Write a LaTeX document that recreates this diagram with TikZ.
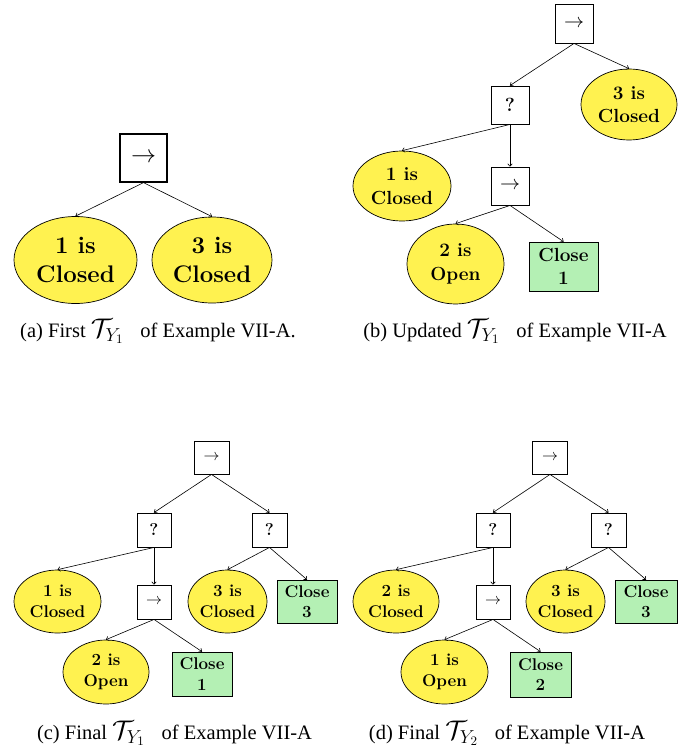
\documentclass[tikz,border=0pt]{standalone}
\usepackage{fontspec}
\newfontfamily\capfont{Liberation Serif}
\usetikzlibrary{shapes.geometric,arrows.meta}
\definecolor{condyellow}{RGB}{255,242,80}
\definecolor{actgreen}{RGB}{180,240,180}
\newcommand\fsa{\fontsize{24}{29}\selectfont\bfseries}
\newcommand\fsb{\fontsize{19}{23.5}\selectfont\bfseries}
\newcommand\fsc{\fontsize{17}{20.5}\selectfont\bfseries}
\newcommand\arr[1]{\scalebox{#1}{$\rightarrow$}}
\newcommand\tsym[1]{\scalebox{1.3}{$\mathcal{T}_{Y_{#1}}$}\hspace{0.55em}}
\begin{document}
\begin{tikzpicture}[x=1pt,y=-1pt,
 ctl/.style={draw,line width=0.9pt,fill=white,inner sep=0pt},
 cond/.style={ellipse,draw,line width=0.7pt,fill=condyellow,inner sep=0pt,align=center},
 act/.style={rectangle,draw,line width=0.7pt,fill=actgreen,inner sep=0pt,align=center},
 edge/.style={-{To[length=3pt,width=5pt]},line width=0.6pt},
 captext/.style={inner sep=0pt,anchor=base,font=\capfont\fontsize{20.5}{23}\selectfont}
]
\useasboundingbox (0,0) rectangle (694,749);

% ---------- (a)
\node[ctl,line width=1.3pt,minimum width=47pt,minimum height=48pt] (a0) at (143.5,158) {\arr{2.5}};
\node[cond,minimum width=123pt,minimum height=87pt,font=\fsa] (a1) at (75.5,260) {1 is\\Closed};
\node[cond,minimum width=120pt,minimum height=86pt,font=\fsa] (a2) at (212,260) {3 is\\Closed};
\draw[edge] (a0.south) -- (a1.north);
\draw[edge] (a0.south) -- (a2.north);
\node[captext] (capa) at (158,337) {(a) First \tsym{1} of Example VII-A.};

% ---------- (b)
\node[ctl,minimum width=38pt,minimum height=39pt] (b0) at (574,23.5) {\arr{2.0}};
\node[ctl,minimum width=38pt,minimum height=38pt,font=\fsb] (bq) at (510,105) {?};
\node[cond,minimum width=96pt,minimum height=71pt,font=\fsb] (b3) at (629,104.5) {3 is\\Closed};
\node[cond,minimum width=98pt,minimum height=70pt,font=\fsb] (b1) at (402,186) {1 is\\Closed};
\node[ctl,minimum width=38pt,minimum height=38pt] (bs) at (510,186) {\arr{2.0}};
\node[cond,minimum width=97pt,minimum height=80pt,font=\fsb] (b2) at (455.5,264) {2 is\\Open};
\node[act,minimum width=69pt,minimum height=49pt,font=\fsb] (bc) at (563.5,266.5) {Close\\1};
\draw[edge] (b0.south) -- (bq.north);
\draw[edge] (b0.south) -- (b3.north);
\draw[edge] (bq.south) -- (b1.north);
\draw[edge] (bq.south) -- (bs.north);
\draw[edge] (bs.south) -- (b2.north);
\draw[edge] (bs.south) -- (bc.north);
\node[captext] (capb) at (515,337) {(b) Updated \tsym{1} of Example VII-A};

% ---------- (c)
\node[ctl,minimum width=35pt,minimum height=33pt] (c0) at (211.5,457.5) {\arr{1.6}};
\node[ctl,minimum width=34pt,minimum height=34pt,font=\fsc] (cq1) at (154,530) {?};
\node[ctl,minimum width=35pt,minimum height=34pt,font=\fsc] (cq2) at (269.5,530) {?};
\node[cond,minimum width=87pt,minimum height=63pt,font=\fsc] (c1) at (57.5,601.5) {1 is\\Closed};
\node[ctl,minimum width=34pt,minimum height=34pt] (cs) at (154,602) {\arr{1.6}};
\node[cond,minimum width=79pt,minimum height=63pt,font=\fsc] (c3) at (227.5,601.5) {3 is\\Closed};
\node[act,minimum width=60pt,minimum height=43pt,font=\fsc] (cc3) at (307,601.5) {Close\\3};
\node[cond,minimum width=86pt,minimum height=64pt,font=\fsc] (c2) at (106,672) {2 is\\Open};
\node[act,minimum width=60pt,minimum height=44pt,font=\fsc] (cc1) at (202,674) {Close\\1};
\draw[edge] (c0.south) -- (cq1.north);
\draw[edge] (c0.south) -- (cq2.north);
\draw[edge] (cq1.south) -- (c1.north);
\draw[edge] (cq1.south) -- (cs.north);
\draw[edge] (cq2.south) -- (c3.north);
\draw[edge] (cq2.south) -- (cc3.north);
\draw[edge] (cs.south) -- (c2.north);
\draw[edge] (cs.south) -- (cc1.north);
\node[captext] (capc) at (174.5,739) {(c) Final \tsym{1} of Example VII-A};

% ---------- (d)
\node[ctl,minimum width=35pt,minimum height=33pt] (d0) at (550,457.5) {\arr{1.6}};
\node[ctl,minimum width=34pt,minimum height=34pt,font=\fsc] (dq1) at (493,530) {?};
\node[ctl,minimum width=35pt,minimum height=34pt,font=\fsc] (dq2) at (608.5,530) {?};
\node[cond,minimum width=86pt,minimum height=63pt,font=\fsc] (d1) at (396,601.5) {2 is\\Closed};
\node[ctl,minimum width=34pt,minimum height=34pt] (ds) at (493,602) {\arr{1.6}};
\node[cond,minimum width=79pt,minimum height=63pt,font=\fsc] (d3) at (565.5,601.5) {3 is\\Closed};
\node[act,minimum width=62pt,minimum height=43pt,font=\fsc] (dc3) at (646,601.5) {Close\\3};
\node[cond,minimum width=87pt,minimum height=64pt,font=\fsc] (d2) at (444.5,672) {1 is\\Open};
\node[act,minimum width=61pt,minimum height=45pt,font=\fsc] (dc1) at (540.5,674.5) {Close\\2};
\draw[edge] (d0.south) -- (dq1.north);
\draw[edge] (d0.south) -- (dq2.north);
\draw[edge] (dq1.south) -- (d1.north);
\draw[edge] (dq1.south) -- (ds.north);
\draw[edge] (dq2.south) -- (d3.north);
\draw[edge] (dq2.south) -- (dc3.north);
\draw[edge] (ds.south) -- (d2.north);
\draw[edge] (ds.south) -- (dc1.north);
\node[captext] (capd) at (507,739) {(d) Final \tsym{2} of Example VII-A};
\end{tikzpicture}
\end{document}
